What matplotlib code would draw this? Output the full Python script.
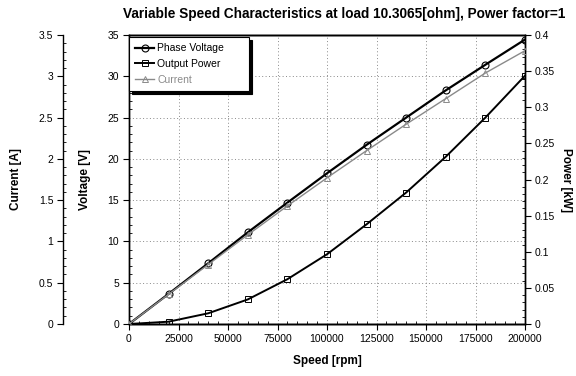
import matplotlib
matplotlib.use("Agg")
import matplotlib.pyplot as plt
from matplotlib.ticker import MultipleLocator, FuncFormatter
from matplotlib.lines import Line2D

plt.rcParams['font.family'] = ['Liberation Sans', 'DejaVu Sans']

speed = [0, 20000, 40000, 60000, 80000, 100000, 120000, 140000, 160000, 180000, 200000]
voltage = [0.0, 3.65, 7.35, 11.1, 14.7, 18.25, 21.7, 25.0, 28.3, 31.4, 34.45]
power = [0.0, 0.0032, 0.0148, 0.034, 0.062, 0.0965, 0.138, 0.182, 0.2315, 0.2857, 0.3437]
current = [0.0, 0.36, 0.72, 1.08, 1.43, 1.77, 2.10, 2.42, 2.73, 3.04, 3.31]

title = "Variable Speed Characteristics at load 10.3065[ohm], Power factor=1"

fig = plt.figure(figsize=(5.76, 3.76), dpi=100)
ax = fig.add_axes([129/576, 1-324/376, 396/576, 289/376])
ax_p = ax.twinx()
ax_c = ax.twinx()

gfmt = FuncFormatter(lambda v, p: f"{v:g}")
gray = '#8a8a8a'

# Voltage (main)
ax.plot(speed, voltage, color='black', lw=1.6, marker='o', ms=5, mfc='none', mew=0.8, zorder=3)
ax.set_xlim(0, 200000)
ax.set_ylim(0, 35)
ax.xaxis.set_major_locator(MultipleLocator(25000))
ax.xaxis.set_minor_locator(MultipleLocator(5000))
ax.yaxis.set_major_locator(MultipleLocator(5))
ax.yaxis.set_minor_locator(MultipleLocator(1))
ax.xaxis.set_major_formatter(gfmt)
ax.yaxis.set_major_formatter(gfmt)
ax.grid(True, which='major', color='#888888', ls=(0, (1, 2.5)), lw=0.7)
ax.set_xlabel("Speed [rpm]", fontsize=8.5, fontweight='bold', labelpad=8)
ax.set_ylabel("Voltage [V]", fontsize=8.5, fontweight='bold', labelpad=12)

# Power (right)
ax_p.plot(speed, power, color='black', lw=1.4, marker='s', ms=5, mfc='none', mew=0.7, zorder=3)
ax_p.set_ylim(0, 0.4)
ax_p.yaxis.set_major_locator(MultipleLocator(0.05))
ax_p.yaxis.set_minor_locator(MultipleLocator(0.01))
ax_p.yaxis.set_major_formatter(gfmt)
ax_p.set_ylabel("Power [kW]", fontsize=8.5, fontweight='bold', rotation=270, labelpad=12)

# Current (offset left)
ax_c.plot(speed, current, color=gray, lw=1.0, marker='^', ms=4.5, mfc='none', mew=0.7, zorder=3)
ax_c.set_ylim(0, 3.5)
ax_c.spines['left'].set_visible(True)
ax_c.spines['left'].set_position(('axes', -66/396))
ax_c.spines['right'].set_visible(False)
ax_c.yaxis.set_label_position('left')
ax_c.yaxis.set_ticks_position('left')
ax_c.yaxis.set_major_locator(MultipleLocator(0.5))
ax_c.yaxis.set_minor_locator(MultipleLocator(0.1))
ax_c.yaxis.set_major_formatter(gfmt)
ax_c.set_ylabel("Current [A]", fontsize=8.5, fontweight='bold', labelpad=12)

for a in (ax, ax_p, ax_c):
    a.tick_params(which='major', direction='out', length=4, width=0.8, labelsize=7.5, pad=3)
    a.tick_params(which='minor', direction='in', length=2.5, width=0.6)
    for s in a.spines.values():
        s.set_linewidth(1.0)

fig.text(0.598, 0.963, title, ha='center', va='center', fontsize=9.8, fontweight='bold')

handles = [
    Line2D([], [], color='black', lw=1.6, marker='o', ms=5, mfc='none', mew=0.8),
    Line2D([], [], color='black', lw=1.4, marker='s', ms=5, mfc='none', mew=0.7),
    Line2D([], [], color=gray, lw=1.0, marker='^', ms=4.5, mfc='none', mew=0.7),
]
leg = ax_c.legend(handles, ["Phase Voltage", "Output Power", "Current"],
                  loc='upper left', bbox_to_anchor=(0.0, 0.0, 0.303, 0.993), mode='expand',
                  fontsize=7.5, frameon=True, fancybox=False, edgecolor='black', framealpha=1,
                  shadow={'color': 'black', 'alpha': 1}, handlelength=1.8,
                  handletextpad=0.3, borderpad=0.6, labelspacing=0.55, borderaxespad=0.0)
leg.get_frame().set_linewidth(0.8)
leg.get_texts()[2].set_color(gray)

fig.savefig("out.png", dpi=100)
